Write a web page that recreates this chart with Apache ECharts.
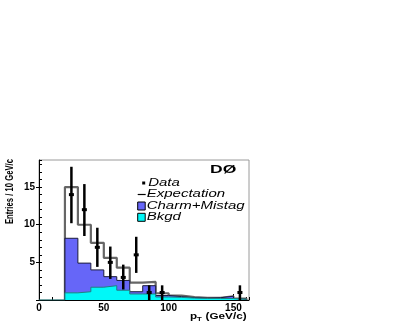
<!DOCTYPE html>
<html>
<head>
<meta charset="utf-8">
<script src="https://cdn.jsdelivr.net/npm/echarts@6/dist/echarts.min.js"></script>
<style>
  html, body { margin: 0; padding: 0; background: #fff; }
  #chart { width: 399px; height: 327px; }
</style>
</head>
<body>
<div id="chart"></div>
<script>
// bins of 10 GeV/c, lower edges
var binEdges = [20, 30, 40, 50, 60, 70, 80, 90, 100, 110, 120, 130, 140, 150];
var binWidth = 10;
var expectation = [15, 10, 7.6, 5.6, 4.3, 2.3, 2.4, 0.9, 0.6, 0.4, 0.3, 0.3, 0.5, 0.2];
var bkgd = [0.95, 1.1, 1.7, 1.9, 1.3, 0.8, 0.8, 0.4, 0.35, 0.25, 0.2, 0.2, 0.2, 0.1];
var charmMistag = [7.25, 3.8, 2.3, 1.2, 1.3, 0.3, 1.1, 0.2, 0.1, 0.05, 0.05, 0.1, 0.3, 0.02];

// data points with error bars
var dataX = [25, 35, 45, 55, 65, 75, 85, 95, 155];
var dataY = [14, 12, 7, 5, 3, 6, 1, 1, 1];
var errLo = [10.2, 8.5, 4.4, 2.8, 1.4, 3.6, 0, 0, 0];
var errHi = [17.7, 15.4, 9.6, 7.1, 4.7, 8.4, 1.95, 1.95, 1.95];

var xTicks = [0, 50, 100, 150];
var yTicks = [5, 10, 15];

// step outline of a histogram
function histPoints(vals, from) {
  var pts = [];
  if (from !== undefined) pts.push([from, 0]);
  pts.push([binEdges[0], 0]);
  for (var i = 0; i < vals.length; i++) {
    pts.push([binEdges[i], vals[i]]);
  }
  pts.push([binEdges[binEdges.length - 1] + binWidth, 0]);
  return pts;
}

var mcTotal = [];
for (var i = 0; i < bkgd.length; i++) {
  mcTotal.push(bkgd[i] + charmMistag[i]);
}

var points = [];
for (var j = 0; j < dataX.length; j++) {
  points.push([dataX[j], dataY[j], errLo[j], errHi[j]]);
}

var labelFont = { color: '#000', fontFamily: 'Liberation Sans', fontWeight: 'bold', fontSize: 10 };

var myChart = echarts.init(document.getElementById('chart'));
myChart.setOption({
  animation: false,
  grid: {
    left: 39, top: 160, right: 150, bottom: 27,
    show: true,
    borderColor: '#9a9a9a',
    borderWidth: 1,
    backgroundColor: 'transparent'
  },
  xAxis: [{
    type: 'value',
    min: 0, max: 162, interval: 50,
    axisLine: { show: true, onZero: false, lineStyle: { color: '#000', width: 1 } },
    axisTick: { show: true, inside: true, length: 6, lineStyle: { color: '#000' } },
    axisLabel: Object.assign({ margin: 3, showMaxLabel: false,
      formatter: function (v) { return xTicks.indexOf(v) >= 0 ? v : ''; } }, labelFont),
    splitLine: { show: false }
  }, {
    // minor ticks
    type: 'value',
    min: 0, max: 162, interval: 10,
    position: 'bottom',
    axisLine: { show: false },
    axisTick: { show: true, inside: true, length: 3, lineStyle: { color: '#000' } },
    axisLabel: { show: false },
    splitLine: { show: false }
  }],
  yAxis: [{
    type: 'value',
    min: 0, max: 18.6, interval: 5,
    axisLine: { show: true, onZero: false, lineStyle: { color: '#000', width: 1 } },
    axisTick: { show: true, inside: false, length: 3, lineStyle: { color: '#000' } },
    axisLabel: Object.assign({ margin: 4, showMaxLabel: false,
      formatter: function (v) { return yTicks.indexOf(v) >= 0 ? v : ''; } }, labelFont),
    splitLine: { show: false }
  }, {
    type: 'value',
    min: 0, max: 18.6, interval: 1,
    position: 'left',
    axisLine: { show: false },
    axisTick: { show: true, inside: true, length: 3, lineStyle: { color: '#000' } },
    axisLabel: { show: false },
    splitLine: { show: false }
  }],
  series: [{
    name: 'Expectation',
    type: 'line',
    step: 'end',
    symbol: 'none',
    z: 1,
    lineStyle: { color: '#666', width: 2.2 },
    data: histPoints(expectation)
  }, {
    name: 'Charm+Mistag',
    type: 'line',
    step: 'end',
    symbol: 'none',
    z: 2,
    lineStyle: { color: '#1c1c3a', width: 1 },
    areaStyle: { color: '#6666f8', opacity: 1 },
    data: histPoints(mcTotal)
  }, {
    name: 'Bkgd',
    type: 'line',
    step: 'end',
    symbol: 'none',
    z: 3,
    lineStyle: { color: '#1f8080', width: 1 },
    areaStyle: { color: '#00f8f8', opacity: 1 },
    data: histPoints(bkgd, 0)
  }, {
    name: 'Data',
    type: 'custom',
    z: 5,
    clip: false,
    encode: { x: 0, y: 1 },
    data: points,
    renderItem: function (params, api) {
      var x = api.value(0);
      var c = api.coord([x, api.value(1)]);
      var lo = api.coord([x, api.value(2)]);
      var hi = api.coord([x, api.value(3)]);
      return {
        type: 'group',
        children: [{
          type: 'line',
          shape: { x1: hi[0], y1: hi[1], x2: lo[0], y2: lo[1] },
          style: { stroke: '#000', lineWidth: 2.5 }
        }, {
          type: 'rect',
          shape: { x: c[0] - 2.5, y: c[1] - 1.5, width: 5, height: 3 },
          style: { fill: '#000' }
        }]
      };
    }
  }],
  graphic: [{
    type: 'text',
    x: 9.5, y: 159,
    rotation: Math.PI / 2,
    scaleX: 0.7,
    style: {
      text: 'Entries / 10 GeV/c',
      font: 'bold 11px "Liberation Sans"',
      fill: '#000',
      textAlign: 'right', align: 'right',
      textVerticalAlign: 'middle', verticalAlign: 'middle'
    }
  }, {
    type: 'text',
    x: 210, y: 170,
    scaleX: 1.75,
    style: {
      text: 'DØ',
      font: 'bold 10px "Liberation Sans"',
      fill: '#000',
      textVerticalAlign: 'middle', verticalAlign: 'middle'
    }
  }, {
    // x axis title
    type: 'group',
    x: 190, y: 317,
    scaleX: 1.3,
    children: [{
      type: 'text', x: 0, y: 0,
      style: { text: 'p', font: 'bold 9px "Liberation Sans"', fill: '#000', textVerticalAlign: 'middle', verticalAlign: 'middle' }
    }, {
      type: 'text', x: 5.3, y: 2.5,
      style: { text: 'T', font: 'bold 6px "Liberation Sans"', fill: '#000', textVerticalAlign: 'middle', verticalAlign: 'middle' }
    }, {
      type: 'text', x: 12, y: 0,
      style: { text: '(GeV/c)', font: 'bold 9px "Liberation Sans"', fill: '#000', textVerticalAlign: 'middle', verticalAlign: 'middle' }
    }]
  }, {
    // legend
    type: 'group',
    x: 137.7, y: 183,
    children: [{
      type: 'rect', shape: { x: 4.5, y: -1.5, width: 3, height: 3 }, style: { fill: '#000' }
    }, {
      type: 'line', shape: { x1: 0, y1: 11.5, x2: 8, y2: 11.5 }, style: { stroke: '#000', lineWidth: 1.2 }
    }, {
      type: 'rect', shape: { x: 0, y: 19, width: 7.5, height: 8 }, style: { fill: '#6666f8', stroke: '#000', lineWidth: 1 }
    }, {
      type: 'rect', shape: { x: 0, y: 30.3, width: 7.5, height: 8 }, style: { fill: '#00f8f8', stroke: '#000', lineWidth: 1 }
    }, {
      type: 'group', x: 9, y: 0, scaleX: 1.5,
      children: [
        { type: 'text', x: 1, y: 0, style: { text: 'Data', font: 'italic 10px "Liberation Sans"', fill: '#000', textVerticalAlign: 'middle', verticalAlign: 'middle' } },
        { type: 'text', x: 0, y: 11.3, style: { text: 'Expectation', font: 'italic 10px "Liberation Sans"', fill: '#000', textVerticalAlign: 'middle', verticalAlign: 'middle' } },
        { type: 'text', x: 0, y: 22.9, style: { text: 'Charm+Mistag', font: 'italic 10px "Liberation Sans"', fill: '#000', textVerticalAlign: 'middle', verticalAlign: 'middle' } },
        { type: 'text', x: 0, y: 34.2, style: { text: 'Bkgd', font: 'italic 10px "Liberation Sans"', fill: '#000', textVerticalAlign: 'middle', verticalAlign: 'middle' } }
      ]
    }]
  }]
});
</script>
</body>
</html>
